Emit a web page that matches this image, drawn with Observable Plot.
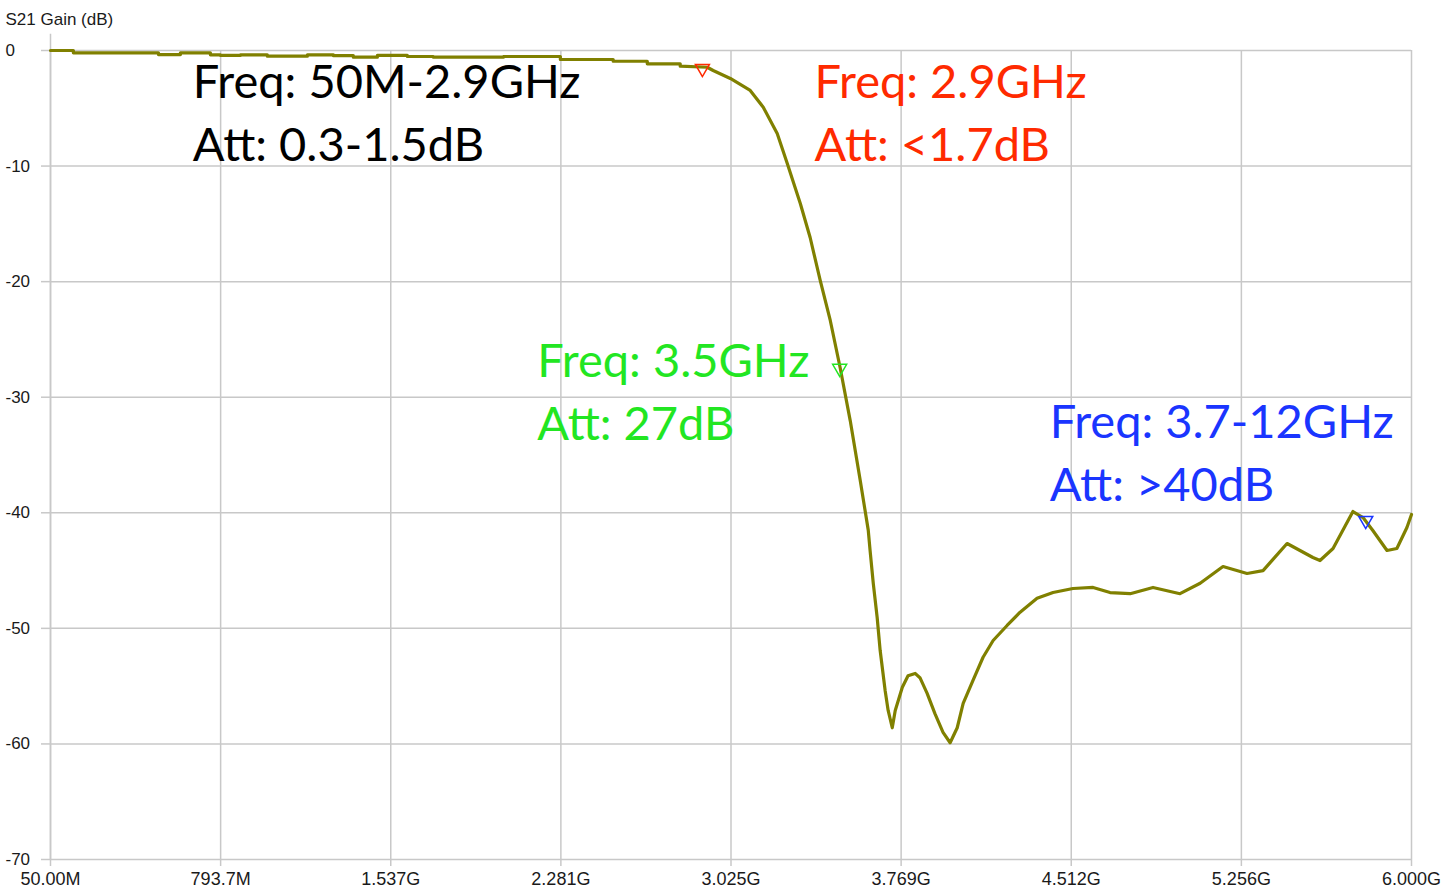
<!DOCTYPE html>
<html>
<head>
<meta charset="utf-8">
<script src="https://cdn.jsdelivr.net/npm/d3@7"></script>
<script src="https://cdn.jsdelivr.net/npm/@observablehq/plot@0.6"></script>
<style>
  html, body { margin: 0; padding: 0; background: #fff; }
  #chart svg { display: block; }
</style>
</head>
<body>
<div id="chart"></div>
<script>
// ---- Data (frequency in MHz, gain in dB) ----
const s21Trace = [
  [50, 0], [150, 0], [150, -0.2], [522, -0.2], [522, -0.35], [618, -0.35], [618, -0.2],
  [749, -0.2], [749, -0.37], [793, -0.37], [793, -0.43], [880, -0.43], [880, -0.37],
  [998, -0.37], [998, -0.49], [1173, -0.49], [1173, -0.37], [1287, -0.37], [1287, -0.45],
  [1374, -0.45], [1374, -0.58], [1479, -0.58], [1479, -0.43], [1610, -0.43], [1610, -0.52],
  [1724, -0.52], [1724, -0.58], [2030, -0.58], [2030, -0.52], [2279, -0.52], [2279, -0.78],
  [2510, -0.78], [2510, -0.93], [2659, -0.93], [2659, -1.15], [2803, -1.15], [2803, -1.36],
  [2921, -1.45], [2947, -1.73], [3022, -2.42], [3109, -3.46], [3166, -4.91], [3227, -7.18],
  [3271, -9.78], [3328, -13.24], [3371, -16.18], [3415, -19.9], [3459, -23.36], [3502, -27.43],
  [3546, -32.0], [3590, -37.2], [3625, -41.5], [3633, -43.25], [3647, -46.1], [3664, -49.06],
  [3677, -51.9], [3699, -55.4], [3712, -57.1], [3730, -58.6], [3743, -57.1], [3774, -55.1],
  [3799, -54.1], [3830, -53.9], [3852, -54.3], [3882, -55.6], [3917, -57.4], [3952, -59.0],
  [3983, -59.9], [4014, -58.6], [4040, -56.5], [4083, -54.5], [4127, -52.5], [4171, -51.05],
  [4232, -49.75], [4289, -48.6], [4363, -47.4], [4433, -46.9], [4520, -46.55], [4608, -46.46],
  [4682, -46.9], [4770, -47.0], [4870, -46.46], [4988, -47.0], [5076, -46.1], [5176, -44.65],
  [5281, -45.25], [5351, -45.0], [5456, -42.66], [5569, -43.87], [5600, -44.13], [5657, -43.09],
  [5744, -39.89], [5788, -40.41], [5831, -41.53], [5893, -43.26], [5936, -43.09], [5980, -41.27],
  [6000, -40.15]
];

const markerFreq = [2900, 3500, 5800];
const markerGain = [-1.56, -27.5, -40.67];
const markerColor = ["#ff2a00", "#22e622", "#1a35ff"];

const noteLines = [
  ["Freq: 50M-2.9GHz", "Att: 0.3-1.5dB"],
  ["Freq: 2.9GHz", "Att: <1.7dB"],
  ["Freq: 3.5GHz", "Att: 27dB"],
  ["Freq: 3.7-12GHz", "Att: >40dB"]
];
// anchor = left edge / baseline of the second line
const noteFreq = [672, 3390, 2178, 4418];
const noteGain = [-9.6, -9.6, -33.66, -39.02];
const noteColor = ["#000000", "#ff2a00", "#22e622", "#1a35ff"];

const xTicks = [50, 793.75, 1537.5, 2281.25, 3025, 3768.75, 4512.5, 5256.25, 6000];
const xLabels = ["50.00M", "793.7M", "1.537G", "2.281G", "3.025G", "3.769G", "4.512G", "5.256G", "6.000G"];
const yTicks = [0, -10, -20, -30, -40, -50, -60, -70];
const yTitle = "S21 Gain (dB)";

// ---- Build tables ----
const trace = s21Trace.map(([f, g]) => ({f, g}));
const markers = markerFreq.map((f, i) => ({f, g: markerGain[i], c: markerColor[i]}));
const notes = noteLines.map((lines, i) => ({f: noteFreq[i], g: noteGain[i], t: lines.join("\n"), c: noteColor[i]}));

const gridColor = "#c8c8c8";
const labelFont = "Liberation Sans, Arial, sans-serif";

const chart = Plot.plot({
  width: 1445,
  height: 894,
  marginLeft: 50,
  marginRight: 34,
  marginTop: 50,
  marginBottom: 35,
  style: {background: "#fff", overflow: "visible"},
  x: {domain: [50, 6000], axis: null},
  y: {domain: [-70, 0], axis: null},
  marks: [
    Plot.gridX(xTicks, {stroke: gridColor, strokeOpacity: 1, strokeWidth: 1.5}),
    Plot.gridY(yTicks, {stroke: gridColor, strokeOpacity: 1, strokeWidth: 1.5}),
    Plot.ruleX([50], {y1: 1.4, y2: -70, stroke: gridColor, strokeWidth: 1.5}),
    Plot.axisX(xTicks, {
      anchor: "bottom", tickSize: 7, tickPadding: 6, stroke: gridColor, strokeWidth: 1.5,
      tickFormat: d => xLabels[xTicks.indexOf(d)], label: null,
      fill: "#1a1a1a", fontSize: 18, fontFamily: labelFont
    }),
    Plot.axisY(yTicks, {
      anchor: "left", tickSize: 9, stroke: gridColor, strokeWidth: 1.5,
      tickFormat: () => "", label: null
    }),
    Plot.text(yTicks, {
      y: d => d, frameAnchor: "left", textAnchor: "start", dx: -45,
      text: d => String(d), fill: "#1a1a1a", fontSize: 17, fontFamily: labelFont
    }),
    Plot.text([yTitle], {
      frameAnchor: "top-left", textAnchor: "start", lineAnchor: "middle", dx: -45, dy: -31,
      text: d => d, fill: "#1a1a1a", fontSize: 17, fontFamily: labelFont
    }),
    Plot.line(trace, {x: "f", y: "g", stroke: "#808000", strokeWidth: 3.2, curve: "linear"}),
    Plot.dot(markers, {
      x: "f", y: "g", symbol: "triangle", rotate: 180, r: 5.2,
      stroke: "c", fill: "none", strokeWidth: 1.5
    }),
    Plot.text(notes, {
      x: "f", y: "g", text: "t", fill: "c", textAnchor: "start", lineAnchor: "bottom",
      lineHeight: 1.34, fontSize: 47, fontFamily: "Lato, 'Noto Sans', sans-serif"
    })
  ]
});

document.getElementById("chart").appendChild(chart);
</script>
</body>
</html>
